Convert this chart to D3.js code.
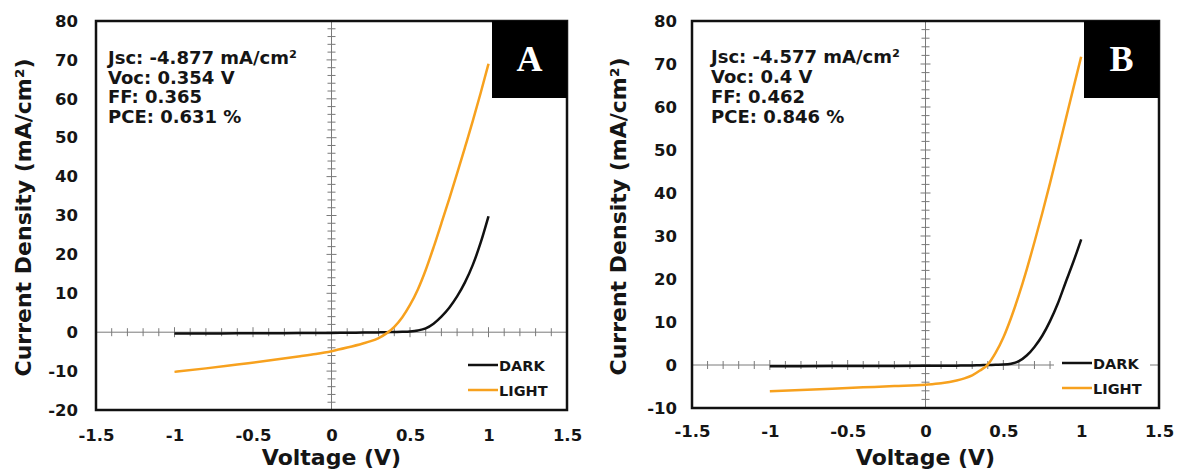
<!DOCTYPE html>
<html>
<head>
<meta charset="utf-8">
<script src="https://cdnjs.cloudflare.com/ajax/libs/d3/7.8.5/d3.min.js"></script>
<style>
  body { margin: 0; background: #fff; }
  svg { display: block; }
  text { font-family: "DejaVu Sans", Verdana, sans-serif; font-weight: bold; fill: #151515; }
</style>
</head>
<body>
<svg id="chart" width="1177" height="472"></svg>
<script>
// J-V curves, two devices (A, B). values

var xTicks = [-1.5, -1, -0.5, 0, 0.5, 1, 1.5];
var yTicksA = [-20, -10, 0, 10, 20, 30, 40, 50, 60, 70, 80];
var yTicksB = [-10, 0, 10, 20, 30, 40, 50, 60, 70, 80];

var voltageA = [-1, -0.8, -0.6, -0.4, -0.2, -0.1, 0, 0.1, 0.2, 0.25, 0.3, 0.35, 0.4, 0.45, 0.5, 0.55, 0.6, 0.65, 0.7, 0.75, 0.8, 0.85, 0.9, 0.95, 1.0];
var darkA    = [-0.35, -0.32, -0.3, -0.27, -0.23, -0.2, -0.18, -0.15, -0.1, -0.07, -0.05, 0, 0.05, 0.1, 0.2, 0.45, 1.0, 2.2, 4.0, 6.3, 9.2, 12.8, 17.3, 23.0, 29.8];
var lightA   = [-10.2, -9.3, -8.3, -7.3, -6.2, -5.6, -4.877, -3.95, -2.9, -2.3, -1.5, -0.3, 1.4, 3.8, 7.0, 11.0, 16.0, 21.8, 28.0, 34.3, 40.8, 47.5, 54.3, 61.5, 69];

var voltageB = [-1, -0.8, -0.6, -0.4, -0.2, 0, 0.1, 0.2, 0.25, 0.3, 0.35, 0.4, 0.45, 0.5, 0.55, 0.6, 0.65, 0.7, 0.75, 0.8, 0.85, 0.9, 0.95, 1.0];
var darkB    = [-0.3, -0.28, -0.26, -0.24, -0.22, -0.2, -0.18, -0.15, -0.12, -0.1, -0.05, 0, 0.05, 0.1, 0.3, 0.9, 2.2, 4.2, 6.8, 10.2, 14.3, 19.2, 24.0, 29.2];
var lightB   = [-6.1, -5.8, -5.5, -5.2, -4.9, -4.577, -4.25, -3.6, -3.1, -2.4, -1.3, 0.1, 2.8, 6.4, 11.0, 16.3, 22.2, 28.6, 35.3, 42.3, 49.6, 57.0, 64.4, 71.7];

var statsA = ["Jsc: -4.877 mA/cm²", "Voc: 0.354 V", "FF: 0.365", "PCE: 0.631 %"];
var statsB = ["Jsc: -4.577 mA/cm²", "Voc: 0.4 V", "FF: 0.462", "PCE: 0.846 %"];
var seriesNames = ["DARK", "LIGHT"];
var seriesColors = ["#111111", "#f7a11e"];

var svg = d3.select("#chart");

function zip(v, j) {
    return v.map(function(d, i) { return [d, j[i]]; });
}

function drawPanel(p) {
    var g = svg.append("g");
    var x = d3.scaleLinear().domain([-1.5, 1.5]).range([p.left, p.right]);
    var y = d3.scaleLinear().domain(p.yDomain).range([p.bottom, p.top]);

    // outer tick labels (no tick marks)
    var yAxis = g.append("g")
        .attr("transform", "translate(" + p.left + ",0)")
        .call(d3.axisLeft(y).tickValues(p.yTicks).tickSize(0).tickPadding(p.yPad).tickFormat(function(d) { return String(d); }));
    var xAxis = g.append("g")
        .attr("transform", "translate(0," + p.bottom + ")")
        .call(d3.axisBottom(x).tickValues(xTicks).tickSize(0).tickPadding(p.xPad).tickFormat(function(d) { return String(d); }));
    [yAxis, xAxis].forEach(function(a) {
        a.select(".domain").remove();
        a.selectAll("text").attr("font-size", "16.5px").style("fill", "#151515");
    });

    // axes crossing at the origin, gray, with cross ticks
    var cx = x(0), cy = y(0);
    g.append("line").attr("x1", cx).attr("x2", cx).attr("y1", p.top).attr("y2", p.bottom)
        .attr("stroke", "#7a7a7a").attr("stroke-width", 1);
    g.append("line").attr("x1", p.left).attr("x2", p.right).attr("y1", cy).attr("y2", cy)
        .attr("stroke", "#7a7a7a").attr("stroke-width", 1);

    var yMinor = d3.range(p.yDomain[0], p.yDomain[1] + 0.001, 2);
    g.selectAll(".ymt").data(yMinor).enter().append("line")
        .attr("x1", function(d) { return cx - (d % 10 === 0 ? 5 : 4); })
        .attr("x2", function(d) { return cx + (d % 10 === 0 ? 5 : 4); })
        .attr("y1", function(d) { return y(d); })
        .attr("y2", function(d) { return y(d); })
        .attr("stroke", "#7a7a7a").attr("stroke-width", 1);

    var xMinor = d3.range(-15, 16).map(function(k) { return k / 10; });
    g.selectAll(".xmt").data(xMinor).enter().append("line")
        .attr("x1", function(d) { return x(d); })
        .attr("x2", function(d) { return x(d); })
        .attr("y1", function(d) { return cy - (Math.round(d * 10) % 5 === 0 ? 5 : 4); })
        .attr("y2", function(d) { return cy + (Math.round(d * 10) % 5 === 0 ? 5 : 4); })
        .attr("stroke", "#7a7a7a").attr("stroke-width", 1);

    // curves
    var line = d3.line()
        .x(function(d) { return x(d[0]); })
        .y(function(d) { return y(d[1]); })
        .curve(d3.curveMonotoneX);
    [p.dark, p.light].forEach(function(s, i) {
        g.append("path").datum(zip(p.voltage, s))
            .attr("d", line)
            .attr("fill", "none")
            .attr("stroke", seriesColors[i])
            .attr("stroke-width", 2.5);
    });

    // legend
    if (p.legendBg) {
        g.append("rect").attr("x", p.legendX - 8).attr("y", p.legendY - 13)
            .attr("width", 96).attr("height", 50).attr("fill", "#fff");
    }
    seriesNames.forEach(function(name, i) {
        var ly = p.legendY + i * 25;
        g.append("line").attr("x1", p.legendX).attr("x2", p.legendX + 30)
            .attr("y1", ly).attr("y2", ly)
            .attr("stroke", seriesColors[i]).attr("stroke-width", 2.5);
        g.append("text").attr("x", p.legendX + 31).attr("y", ly + 5.5)
            .attr("font-size", "14.5px").text(name);
    });

    // frame
    g.append("rect").attr("x", p.left).attr("y", p.top)
        .attr("width", p.right - p.left).attr("height", p.bottom - p.top)
        .attr("fill", "none").attr("stroke", "#111").attr("stroke-width", 2.5);

    // panel badge
    g.append("rect").attr("x", p.right - 75).attr("y", p.top)
        .attr("width", 75).attr("height", 77).attr("fill", "#000");
    g.append("text").attr("x", p.right - 37.5).attr("y", p.top + 50)
        .attr("text-anchor", "middle")
        .style("font-family", "'Liberation Serif', 'Times New Roman', serif")
        .style("fill", "#fff")
        .attr("font-size", "36px").text(p.badge);

    // stats block
    p.stats.forEach(function(s, i) {
        g.append("text").attr("x", p.left + p.statsDx).attr("y", p.statsY[i])
            .attr("font-size", "18px").text(s);
    });

    // axis titles
    g.append("text")
        .attr("transform", "translate(" + p.yTitleX + "," + ((p.top + p.bottom) / 2 + 2) + ") rotate(-90)")
        .attr("text-anchor", "middle").attr("font-size", "22px")
        .text("Current Density (mA/cm²)");
    g.append("text").attr("x", x(0)).attr("y", 465)
        .attr("text-anchor", "middle").attr("font-size", "22px")
        .text("Voltage (V)");
}

drawPanel({
    left: 96, right: 567, top: 21, bottom: 410,
    yDomain: [-20, 80], yTicks: yTicksA, yPad: 18, xPad: 19,
    voltage: voltageA, dark: darkA, light: lightA,
    legendX: 468, legendY: 365, legendBg: false,
    badge: "A", stats: statsA, statsDx: 12, statsY: [64, 84, 103, 123],
    yTitleX: 31
});

drawPanel({
    left: 692, right: 1159, top: 21, bottom: 408,
    yDomain: [-10, 80], yTicks: yTicksB, yPad: 15, xPad: 17,
    voltage: voltageB, dark: darkB, light: lightB,
    legendX: 1062, legendY: 363, legendBg: true,
    badge: "B", stats: statsB, statsDx: 19, statsY: [63, 83, 103, 123],
    yTitleX: 626
});
</script>
</body>
</html>
